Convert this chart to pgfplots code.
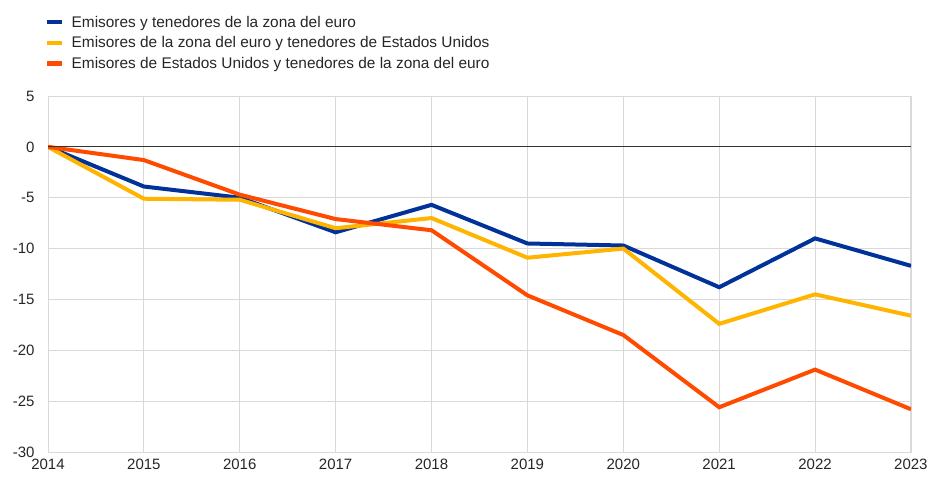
\documentclass[border=0pt]{standalone}
\usepackage{fontspec}
\setmainfont{Liberation Sans}
\usepackage{pgfplots}
\pgfplotsset{compat=1.18}
\definecolor{ecbblue}{HTML}{003299}
\definecolor{ecbyellow}{HTML}{FFB400}
\definecolor{ecborange}{HTML}{FF4B00}
\definecolor{gridgray}{HTML}{D9D9D9}
\begin{document}
\begin{tikzpicture}
\begin{axis}[
  scale only axis,
  width=863bp, height=356bp,
  xmin=2014, xmax=2023,
  ymin=-30, ymax=5,
  xtick={2014,...,2023},
  ytick={-30,-25,...,5},
  xticklabel style={/pgf/number format/1000 sep={}},
  /pgf/number format/assume math mode=true,
  tick label style={font=\fontsize{15bp}{17bp}\selectfont, text=black!85},
  xticklabel style={yshift=-4bp},
  yticklabel style={xshift=-10bp},
  major tick length=0pt,
  grid=major,
  major grid style={gridgray, line width=0.9bp},
  axis line style={gridgray, line width=0.9bp},
  legend style={at={(0,1)}, anchor=south west, xshift=-6bp, yshift=22bp,
    draw=none, fill=none, font=\fontsize{15.4bp}{17bp}\selectfont,
    row sep=4bp, text=black!85,
    /tikz/every odd column/.append style={column sep=5bp}},
  legend cell align=left,
  legend image code/.code={\draw[line width=4.5bp, #1] (0bp,0bp) -- (15bp,0bp);},
]
\addplot[ecbblue, line width=4bp] coordinates {
 (2014,0) (2015,-3.9) (2016,-5.0) (2017,-8.4) (2018,-5.7) (2019,-9.5) (2020,-9.7) (2021,-13.8) (2022,-9.0) (2023,-11.7)};
\addlegendentry{Emisores y tenedores de la zona del euro}
\addplot[ecbyellow, line width=4bp] coordinates {
 (2014,0) (2015,-5.1) (2016,-5.2) (2017,-8.0) (2018,-7.0) (2019,-10.9) (2020,-10.0) (2021,-17.4) (2022,-14.5) (2023,-16.6)};
\addlegendentry{Emisores de la zona del euro y tenedores de Estados Unidos}
\addplot[ecborange, line width=4bp] coordinates {
 (2014,0) (2015,-1.3) (2016,-4.7) (2017,-7.1) (2018,-8.2) (2019,-14.6) (2020,-18.5) (2021,-25.6) (2022,-21.9) (2023,-25.8)};
\addlegendentry{Emisores de Estados Unidos y tenedores de la zona del euro}
\draw[black!80, line width=0.8bp] (axis cs:2014,0) -- (axis cs:2023,0);
\end{axis}
\pgfresetboundingbox
\path ([shift={(-48bp,-27bp)}]current axis.south west) rectangle ([shift={(19bp,96bp)}]current axis.north east);
\end{tikzpicture}
\end{document}
